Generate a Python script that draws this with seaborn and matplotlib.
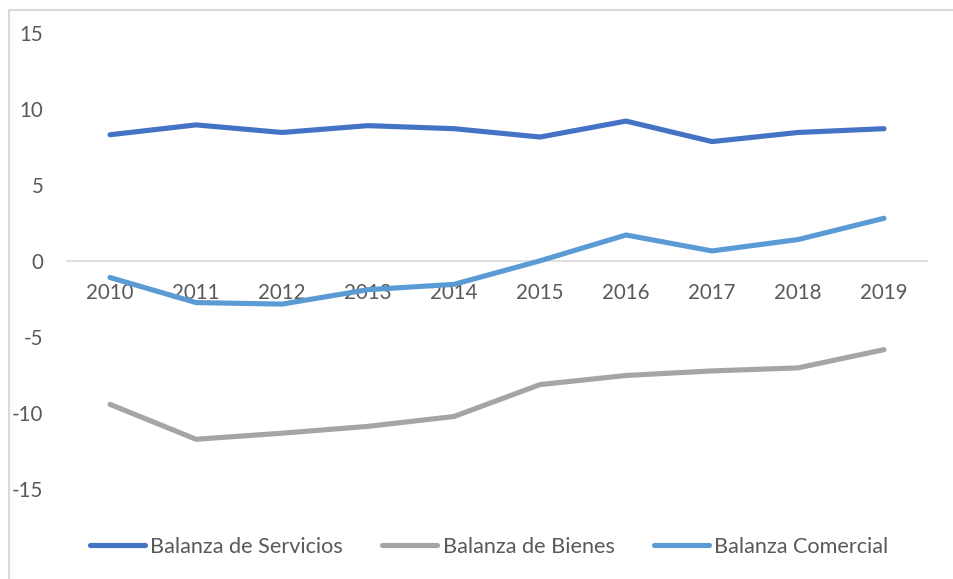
import matplotlib
matplotlib.use("Agg")
import matplotlib.pyplot as plt
import seaborn as sns
import pandas as pd
from matplotlib.lines import Line2D

years = ["2010", "2011", "2012", "2013", "2014", "2015", "2016", "2017", "2018", "2019"]
servicios = [8.3, 8.95, 8.45, 8.9, 8.7, 8.15, 9.2, 7.85, 8.45, 8.7]
bienes = [-9.45, -11.75, -11.35, -10.9, -10.25, -8.15, -7.55, -7.25, -7.05, -5.85]
comercial = [-1.1, -2.75, -2.85, -1.9, -1.55, 0.0, 1.7, 0.65, 1.4, 2.8]
series_names = ["Balanza de Servicios", "Balanza de Bienes", "Balanza Comercial"]
colors = ["#4472C4", "#A5A5A5", "#5B9BD5"]
yticks = [-15, -10, -5, 0, 5, 10, 15]

df = pd.DataFrame({
    "Año": years * 3,
    "Valor": servicios + bienes + comercial,
    "Serie": [series_names[0]] * 10 + [series_names[1]] * 10 + [series_names[2]] * 10,
})

sns.set_theme(style="white")
plt.rcParams["font.family"] = ["Lato", "DejaVu Sans"]
txt = "#595959"

fig = plt.figure(figsize=(9.54, 5.79), dpi=100)
ax = fig.add_axes([67 / 954, 1 - 519 / 579, 860 / 954, (519 - 33) / 579])

sns.lineplot(data=df, x="Año", y="Valor", hue="Serie", palette=colors,
             hue_order=series_names, linewidth=3.7, ax=ax, legend=False,
             solid_capstyle="round")

ax.set_xlim(-0.5, 9.5)
ax.set_ylim(-17, 15)
ax.set_yticks(yticks)
ax.set_yticklabels([str(v) for v in yticks])
ax.set_xlabel("")
ax.set_ylabel("")

for s in ["top", "right", "left"]:
    ax.spines[s].set_visible(False)
ax.spines["bottom"].set_position(("data", 0))
ax.spines["bottom"].set_color("#D9D9D9")
ax.spines["bottom"].set_linewidth(1.2)
ax.spines["bottom"].set_zorder(0)

ax.tick_params(axis="x", length=0, pad=16, labelsize=14.8, labelcolor=txt)
ax.tick_params(axis="y", length=0, pad=17, labelsize=14.8, labelcolor=txt)
ax.grid(False)

# chart frame (top and left borders)
fig.add_artist(Line2D([9 / 954, 1.0], [1 - 10 / 579, 1 - 10 / 579], color="#D9D9D9", lw=1.5))
fig.add_artist(Line2D([9 / 954, 9 / 954], [0, 1 - 10 / 579], color="#D9D9D9", lw=1.5))

handles = [Line2D([0], [0], color=c, lw=3.7, solid_capstyle="round") for c in colors]
fig.legend(handles, series_names, loc="center", bbox_to_anchor=(489 / 954, 1 - 547 / 579),
           ncol=3, frameon=False, fontsize=15.6, labelcolor=txt, handlelength=2.55,
           handletextpad=0.25, columnspacing=1.8, borderaxespad=0)

fig.savefig("out.png", dpi=100)
